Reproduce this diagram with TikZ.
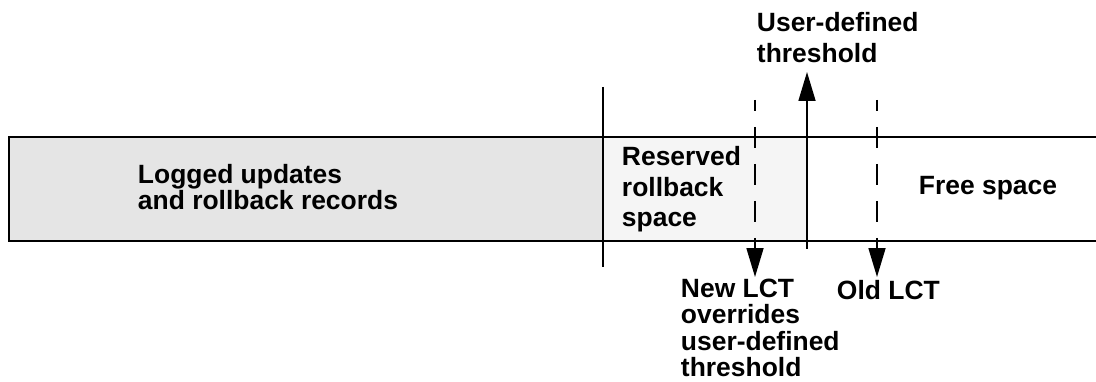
\documentclass[tikz,border=0pt]{standalone}
\usepackage{fontspec}
\setmainfont{Liberation Sans}
\usetikzlibrary{arrows.meta}

\definecolor{loggray}{gray}{0.9}
\definecolor{rsvgray}{gray}{0.96}

\begin{document}
\begin{tikzpicture}[
  line width=1.4pt,
  lbl/.style={font=\bfseries\fontsize{18.8}{#1}\selectfont, align=left, inner sep=0pt, anchor=base west},
  lbl/.default=19.5pt,
  lctline/.style={dash pattern=on 0.525cm off 0.4cm, dash phase=0.25cm},
  tip/.style={-{Triangle[length=0.72cm,width=0.42cm]}}
]
\useasboundingbox (0,0) rectangle (27.4,9.525);

% log segments
\fill[loggray] (0.225,3.5) rectangle (15.075,6.1);
\fill[rsvgray] (15.075,3.5) rectangle (20.175,6.1);
\draw (27.4,6.1)--(0.225,6.1)--(0.225,3.5)--(27.4,3.5);

% start of reserved space
\coordinate (rtop) at (15.075,7.35);
\coordinate (rbot) at (15.075,2.85);
\draw (rtop)--(rbot);

% user-defined threshold
\coordinate (ubot) at (20.175,3.3);
\coordinate (utip) at (20.175,7.725);
\draw[tip] (ubot)--(utip);

% last-chance thresholds
\coordinate (newtop) at (18.875,7.025);
\coordinate (newtip) at (18.875,2.6);
\coordinate (oldtop) at (21.925,7.025);
\coordinate (oldtip) at (21.925,2.6);
\draw[lctline,tip] (newtop)--(newtip);
\draw[lctline,tip] (oldtop)--(oldtip);

% labels (anchored on the last line)
\node[lbl=19.2pt] (logged) at (3.425,4.275){Logged updates\\and rollback records};
\node[lbl=22pt] (reserved) at (15.525,3.85){Reserved\\rollback\\space};
\node[lbl] (free) at (22.95,4.65){Free space};
\node[lbl=22.4pt] (user) at (18.9,7.95){User-defined\\threshold};
\node[lbl=18.6pt] (newlct) at (17.0,0.12){New LCT\\overrides\\user-defined\\threshold};
\node[lbl] (oldlct) at (20.9,2.05){Old LCT};

\end{tikzpicture}
\end{document}
